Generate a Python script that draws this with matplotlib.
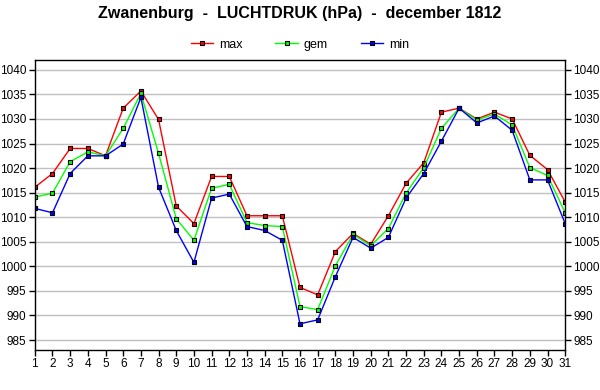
import matplotlib.pyplot as plt
import numpy as np

plt.rcParams['font.family'] = ['Liberation Sans', 'DejaVu Sans']

days = list(range(1, 32))
p_max = [1016.1, 1018.9, 1024.0, 1024.0, 1022.5, 1032.2, 1035.7, 1029.9, 1012.3, 1008.7,
         1018.3, 1018.3, 1010.3, 1010.3, 1010.3, 995.7, 994.2, 1003.0, 1006.7, 1004.5,
         1010.3, 1016.9, 1021.1, 1031.4, 1032.2, 1030.0, 1031.4, 1030.0, 1022.6, 1019.7, 1013.1]
p_gem = [1014.1, 1014.9, 1021.3, 1023.3, 1022.5, 1028.1, 1035.2, 1023.0, 1009.7, 1005.3,
         1015.9, 1016.7, 1008.9, 1008.3, 1008.1, 991.8, 991.2, 1000.1, 1006.5, 1004.2,
         1007.7, 1014.9, 1020.1, 1028.1, 1032.2, 1029.8, 1031.0, 1028.8, 1020.1, 1018.5, 1010.9]
p_min = [1011.8, 1010.9, 1018.9, 1022.5, 1022.5, 1024.9, 1034.4, 1016.1, 1007.3, 1000.8,
         1013.9, 1014.7, 1008.1, 1007.3, 1005.3, 988.3, 989.1, 997.9, 1005.9, 1003.7,
         1005.9, 1013.9, 1018.9, 1025.5, 1032.2, 1029.2, 1030.6, 1027.7, 1017.6, 1017.6, 1008.7]
yticks = list(range(985, 1041, 5))

fig = plt.figure(figsize=(6, 3.9), dpi=100)
ax = fig.add_axes([0.058, 0.103, 0.884, 0.743])

series = [(p_max, '#ff0000', 'max'), (p_gem, '#00ff00', 'gem'), (p_min, '#0000ff', 'min')]
for vals, col, lab in series:
    ax.plot(days, vals, color=col, lw=1, marker='s', ms=3, mfc=col, mec='black',
            mew=0.8, label=lab)

ax.set_xlim(1, 31)
ax.set_ylim(983, 1042)
ax.set_xticks(days)
ax.set_yticks(yticks)
ax.yaxis.grid(True, color='#c0c0c0', lw=1)
ax.set_axisbelow(True)
ax.tick_params(labelsize=8.5, direction='out', length=4, width=1, pad=2)
ax.tick_params(axis='y', right=True, labelright=True)
for s in ax.spines.values():
    s.set_linewidth(1)

fig.suptitle('Zwanenburg  -  LUCHTDRUK (hPa)  -  december 1812', fontsize=11.5,
             fontweight='bold', y=0.985)
fig.legend(loc='center', bbox_to_anchor=(0.5, 0.885), ncol=3, frameon=False,
           fontsize=9, handlelength=1.8, handletextpad=0.5, columnspacing=2.6)

fig.savefig('out.png')
